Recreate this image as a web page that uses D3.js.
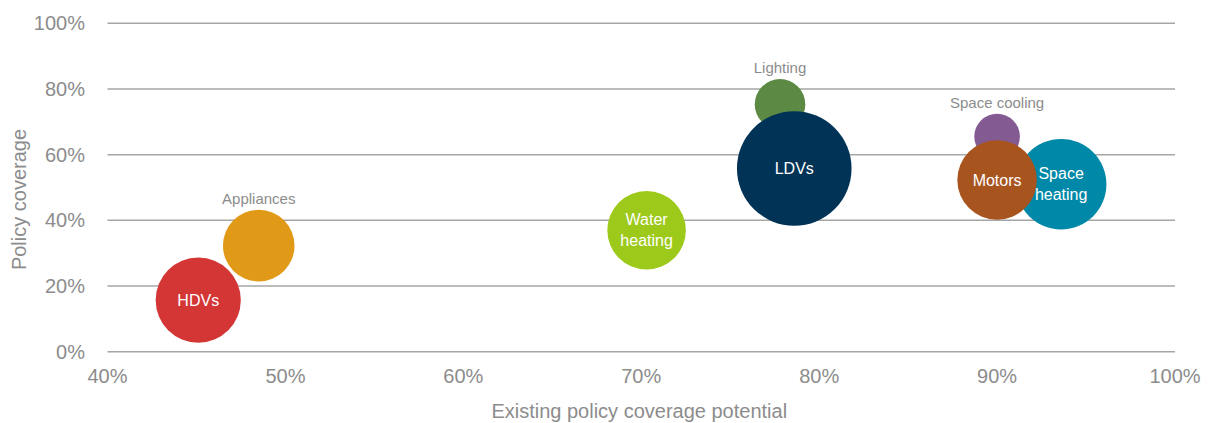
<!DOCTYPE html>
<html>
<head>
<meta charset="utf-8">
<script src="https://cdn.jsdelivr.net/npm/d3@7"></script>
<style>
  html, body { margin: 0; padding: 0; background: #fff; }
  svg { display: block; }
</style>
</head>
<body>
<svg id="chart" width="1208" height="423"></svg>
<script>
// Data
const categories = ["HDVs", "Appliances", "Water heating", "Lighting", "LDVs", "Space cooling", "Space heating", "Motors"];
const xValues = [45.1, 48.5, 70.3, 77.8, 78.6, 90.0, 93.6, 90.0];      // Existing policy coverage potential (%)
const yValues = [15.7, 32.3, 37.0, 75.3, 55.8, 65.5, 51.0, 52.3];      // Policy coverage (%)
const sizeValues = [18.1, 12.8, 15.4, 6.4, 32.8, 5.2, 20.5, 15.8];     // bubble size (relative)
const colors = ["#D43636", "#E09A17", "#9DC91B", "#5C8A45", "#013356", "#835B92", "#0088A8", "#A8541F"];
const labelInside = [true, false, true, false, true, false, true, true];
const xTicks = [40, 50, 60, 70, 80, 90, 100];
const yTicks = [0, 20, 40, 60, 80, 100];

(function () {
const svg = d3.select("#chart");
const mLeft = 107.5, mRight = 1175, mTop = 23.3, mBottom = 351.7;
const font = "'Liberation Sans Narrow', 'Liberation Sans', Arial, sans-serif";

const x = d3.scaleLinear().domain([40, 100]).range([mLeft, mRight]);
const y = d3.scaleLinear().domain([0, 100]).range([mBottom, mTop]);
const r = d3.scaleSqrt().domain([0, 32.8]).range([0, 57.3]);

// Gridlines
svg.append("g").selectAll("line").data(yTicks).join("line")
  .attr("x1", mLeft).attr("x2", mRight)
  .attr("y1", d => y(d)).attr("y2", d => y(d))
  .attr("stroke", "#A6A6A6").attr("stroke-width", 1.5);

// Y tick labels
svg.append("g").selectAll("text").data(yTicks).join("text")
  .attr("x", 85).attr("y", d => y(d))
  .attr("dy", "0.35em").attr("text-anchor", "end")
  .attr("font-family", font).attr("font-size", 20).attr("fill", "#8C8C8C")
  .text(d => d + "%");

// X tick labels
svg.append("g").selectAll("text").data(xTicks).join("text")
  .attr("x", d => x(d)).attr("y", 383)
  .attr("text-anchor", "middle")
  .attr("font-family", font).attr("font-size", 20).attr("fill", "#8C8C8C")
  .text(d => d + "%");

// Axis titles
svg.append("text")
  .attr("x", (mLeft + mRight) / 2 - 2).attr("y", 418)
  .attr("text-anchor", "middle")
  .attr("font-family", font).attr("font-size", 20).attr("fill", "#8C8C8C")
  .text("Existing policy coverage potential");

svg.append("text")
  .attr("transform", `translate(26, ${(mTop + mBottom) / 2 + 12}) rotate(-90)`)
  .attr("text-anchor", "middle")
  .attr("font-family", font).attr("font-size", 20).attr("fill", "#8C8C8C")
  .text("Policy coverage");

const data = categories.map((c, i) => ({
  name: c, x: xValues[i], y: yValues[i], s: sizeValues[i], color: colors[i], inside: labelInside[i]
}));

// Bubbles
svg.append("g").selectAll("circle").data(data).join("circle")
  .attr("cx", d => x(d.x)).attr("cy", d => y(d.y)).attr("r", d => r(d.s))
  .attr("fill", d => d.color);

// Labels
const lg = svg.append("g");
data.forEach(d => {
  const cx = x(d.x), cy = y(d.y), rad = r(d.s);
  if (d.inside) {
    const words = d.name.split(" ");
    const lh = 21;
    const t = lg.append("text")
      .attr("text-anchor", "middle")
      .attr("font-family", font).attr("font-size", 16).attr("fill", "#FFFFFF");
    words.forEach((w, k) => {
      t.append("tspan").attr("x", cx)
        .attr("y", cy + (k - (words.length - 1) / 2) * lh)
        .attr("dy", "0.35em").text(w);
    });
  } else {
    lg.append("text")
      .attr("x", cx).attr("y", cy - rad - 6)
      .attr("text-anchor", "middle")
      .attr("font-family", font).attr("font-size", 15).attr("fill", "#8C8C8C")
      .text(d.name);
  }
});
})();
</script>
</body>
</html>
